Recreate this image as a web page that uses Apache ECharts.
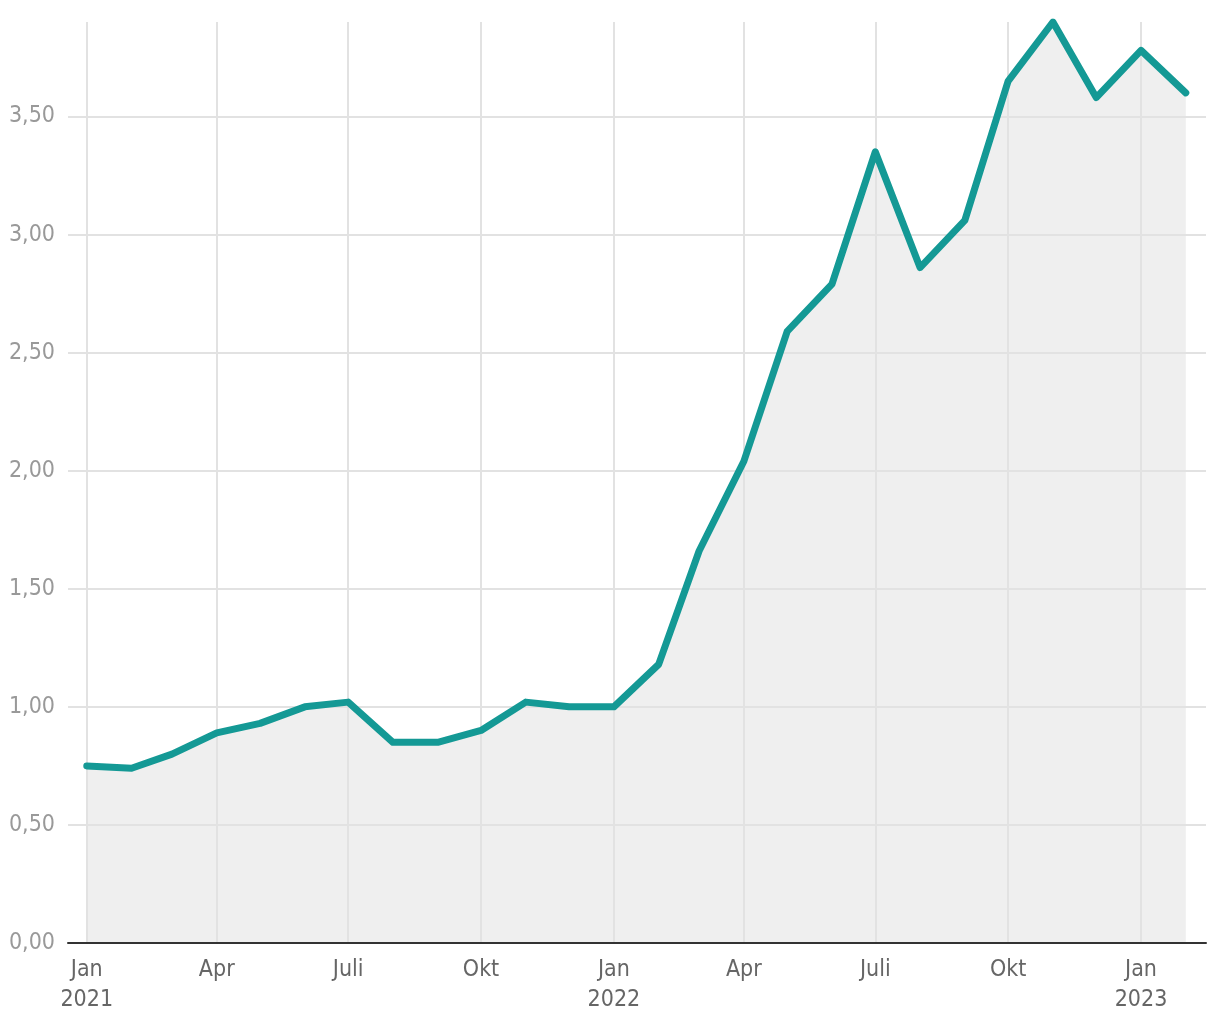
<!DOCTYPE html>
<html>
<head>
<meta charset="utf-8">
<script src="https://cdn.jsdelivr.net/npm/echarts@6/dist/echarts.min.js"></script>
<style>html,body{margin:0;padding:0;background:#fff}#c{width:1220px;height:1020px}</style>
</head>
<body>
<div id="c"></div>
<script>
const months = ['2021-01','2021-02','2021-03','2021-04','2021-05','2021-06','2021-07','2021-08','2021-09','2021-10','2021-11','2021-12',
  '2022-01','2022-02','2022-03','2022-04','2022-05','2022-06','2022-07','2022-08','2022-09','2022-10','2022-11','2022-12',
  '2023-01','2023-02'];
const values = [0.75,0.74,0.80,0.89,0.93,1.00,1.02,0.85,0.85,0.90,1.02,1.00,
  1.00,1.18,1.66,2.04,2.59,2.79,3.35,2.86,3.06,3.65,3.90,3.58,
  3.78,3.60];
const tickMonths = ['2021-01','2021-04','2021-07','2021-10','2022-01','2022-04','2022-07','2022-10','2023-01'];
const monthNames = {0:'Jan',3:'Apr',6:'Juli',9:'Okt'};
const yTicks = [0.5,1.0,1.5,2.0,2.5,3.0,3.5];

function toTs(m){const [y,mo]=m.split('-').map(Number);return Date.UTC(y,mo-1,1);}
const data = months.map((m,i)=>[toTs(m), values[i]]);
const tickVals = tickMonths.map(toTs);

const chart = echarts.init(document.getElementById('c'));
const font = '"Liberation Sans Narrow","DejaVu Sans Condensed","Roboto",sans-serif';
chart.setOption({
  animation:false,
  grid:{left:68,right:14,top:22,bottom:77,containLabel:false},
  xAxis:{
    type:'value',z:3,
    min:Date.UTC(2020,11,19),
    max:Date.UTC(2023,1,15),
    axisLine:{show:true,onZero:false,lineStyle:{color:'#333',width:2}},
    axisTick:{show:false,customValues:tickVals},
    axisLabel:{
      customValues:tickVals,showMinLabel:true,showMaxLabel:true,
      color:'#666',fontSize:23,fontFamily:font,lineHeight:30,margin:12,
      formatter:function(v){const d=new Date(v);const m=d.getUTCMonth();
        return m===0 ? 'Jan\n'+d.getUTCFullYear() : monthNames[m];}
    },
    splitLine:{show:true,lineStyle:{color:'#e2e2e2',width:2}}
  },
  yAxis:{
    type:'value',min:0,max:3.9,interval:0.5,z:3,
    axisLine:{show:false},axisTick:{show:false},
    axisLabel:{color:'#999',fontSize:23,fontFamily:font,margin:13,showMaxLabel:false,
      formatter:function(v){return v.toFixed(2).replace('.',',');}},
    splitLine:{show:false}
  },
  series:[{
    type:'line',data:data,symbol:'none',z:1,
    lineStyle:{width:0,opacity:0},
    areaStyle:{color:'#efefef',opacity:1},
    markLine:{
      silent:true,symbol:'none',label:{show:false},z:4,
      lineStyle:{color:'#e2e2e2',width:2,type:'solid'},
      data:yTicks.map(v=>({yAxis:v}))
    }
  },{
    type:'line',data:data,symbol:'none',z:6,
    lineStyle:{color:'#149995',width:7,cap:'round',join:'round'}
  }]
});
</script>
</body>
</html>
